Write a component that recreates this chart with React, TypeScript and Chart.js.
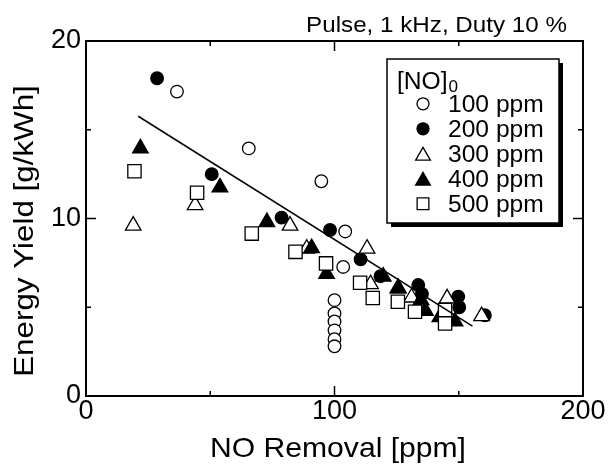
import React, { useEffect, useRef } from 'react';
import { Chart, registerables } from 'chart.js';

Chart.register(...registerables);

// ---------- data ----------
const removal100 = [36.6, 65.5, 94.7, 104.3, 103.5, 100, 100, 100, 100, 100, 100];
const yield100 = [17.15, 13.95, 12.1, 9.27, 7.27, 5.4, 4.65, 4.2, 3.7, 3.2, 2.8];

const removal200 = [28.6, 50.6, 78.7, 98.2, 110.5, 118.5, 133.7, 135.2, 149.8, 150.2, 160.5];
const yield200 = [17.9, 12.5, 10.05, 9.35, 7.7, 6.75, 6.25, 5.75, 5.6, 5.0, 4.55];

const removal300 = [19, 43.9, 82.1, 88.8, 113.1, 114.5, 125.6, 131, 145.3, 159.2];
const yield300 = [9.6, 10.75, 9.6, 8.3, 8.3, 6.3, 6.1, 5.55, 5.5, 4.5];

const removal400 = [21.9, 53.9, 72.8, 90.8, 96.8, 119.6, 125.6, 134.8, 136.6, 142.4, 148.5];
const yield400 = [13.95, 11.75, 9.8, 8.33, 6.88, 6.73, 6.05, 5.4, 4.8, 4.45, 4.2];

const removal500 = [19.5, 44.7, 66.7, 84.3, 96.6, 110.3, 115.4, 125.5, 132.4, 144.5, 144.5];
const yield500 = [12.66, 11.45, 9.15, 8.12, 7.47, 6.38, 5.52, 5.31, 4.75, 4.84, 4.09];

const fitX = [21, 155.5];
const fitY = [15.76, 3.94];

const seriesLabels = ['100 ppm', '200 ppm', '300 ppm', '400 ppm', '500 ppm'];
const legendTitle = '[NO]';
const legendTitleSub = '0';
const chartTitle = 'Pulse, 1 kHz, Duty 10 %';
const xTitle = 'NO Removal [ppm]';
const yTitle = 'Energy Yield [g/kWh]';
const xTickMarks = [0, 50, 100, 150, 200];
const yTickMarks = [0, 5, 10, 15, 20];

const FONT = '"Liberation Sans", Arial, Helvetica, sans-serif';

type Marker = { style: 'circle' | 'triangle' | 'rect'; filled: boolean; r: number };
const markers: Marker[] = [
  { style: 'circle', filled: false, r: 6.3 },
  { style: 'circle', filled: true, r: 6.3 },
  { style: 'triangle', filled: false, r: 9 },
  { style: 'triangle', filled: true, r: 9 },
  { style: 'rect', filled: false, r: 9.4 },
];

const pts = (xs: number[], ys: number[]) => xs.map((x, i) => ({ x, y: ys[i] }));

function drawMarker(ctx: CanvasRenderingContext2D, m: Marker, x: number, y: number, r: number) {
  ctx.beginPath();
  if (m.style === 'circle') {
    ctx.arc(x, y, r, 0, Math.PI * 2);
  } else if (m.style === 'triangle') {
    let rad = 0;
    ctx.moveTo(x + Math.sin(rad) * r, y - Math.cos(rad) * r);
    rad += (2 * Math.PI) / 3;
    ctx.lineTo(x + Math.sin(rad) * r, y - Math.cos(rad) * r);
    rad += (2 * Math.PI) / 3;
    ctx.lineTo(x + Math.sin(rad) * r, y - Math.cos(rad) * r);
    ctx.closePath();
  } else {
    const s = r * Math.SQRT1_2;
    ctx.rect(x - s, y - s, 2 * s, 2 * s);
  }
  ctx.fillStyle = m.filled ? '#000' : '#fff';
  ctx.fill();
  ctx.lineWidth = 1.3;
  ctx.strokeStyle = '#000';
  ctx.stroke();
}

function drawText(
  ctx: CanvasRenderingContext2D,
  s: string,
  x: number,
  y: number,
  size: number,
  align: CanvasTextAlign,
  sx: number,
  rot = 0
) {
  ctx.save();
  ctx.translate(x, y);
  if (rot) ctx.rotate(rot);
  ctx.scale(sx, 1);
  ctx.font = `${size}px ${FONT}`;
  ctx.textAlign = align;
  ctx.textBaseline = 'alphabetic';
  ctx.fillStyle = '#000';
  ctx.fillText(s, 0, 0);
  ctx.restore();
}

const decorPlugin = {
  id: 'decor',
  afterDatasetsDraw(chart: any) {
    const { ctx, chartArea, scales } = chart;
    const { left, right, top, bottom } = chartArea;
    const xs = scales.x;
    const ys = scales.y;
    ctx.save();
    ctx.strokeStyle = '#000';
    ctx.lineWidth = 2;
    ctx.strokeRect(left, top, right - left, bottom - top);
    ctx.lineWidth = 1.5;
    ctx.beginPath();
    for (const v of xTickMarks) {
      const px = xs.getPixelForValue(v);
      const len = v % 100 === 0 ? 10 : 5;
      ctx.moveTo(px, bottom);
      ctx.lineTo(px, bottom - len);
      ctx.moveTo(px, top);
      ctx.lineTo(px, top + len);
    }
    for (const v of yTickMarks) {
      const py = ys.getPixelForValue(v);
      const len = v % 10 === 0 ? 10 : 5;
      ctx.moveTo(left, py);
      ctx.lineTo(left + len, py);
      ctx.moveTo(right, py);
      ctx.lineTo(right - len, py);
    }
    ctx.stroke();

    // titles
    drawText(ctx, chartTitle, 567, 31.5, 22, 'right', 1.1);
    drawText(ctx, xTitle, 338, 457, 28, 'center', 1.075);
    drawText(ctx, yTitle, 32.5, 231, 28, 'center', 1.12, -Math.PI / 2);

    // legend
    const bx = 387, by = 59, bw = 172, bh = 164;
    ctx.fillStyle = '#000';
    ctx.fillRect(bx + 4, by + 4, bw, bh);
    ctx.fillStyle = '#fff';
    ctx.fillRect(bx, by, bw, bh);
    ctx.lineWidth = 1.5;
    ctx.strokeStyle = '#000';
    ctx.strokeRect(bx, by, bw, bh);

    const lsx = 1.07;
    drawText(ctx, legendTitle, 397, 88.5, 23, 'left', lsx);
    ctx.font = `23px ${FONT}`;
    const tw = ctx.measureText(legendTitle).width * lsx;
    drawText(ctx, legendTitleSub, 397 + tw + 1, 92, 16, 'left', lsx);

    seriesLabels.forEach((lab, i) => {
      const cy = 103.8 + i * 25;
      const m = markers[i];
      const r = m.style === 'circle' ? 6 : m.style === 'triangle' ? 8.5 : 8.3;
      drawMarker(ctx, m, 423, m.style === 'triangle' ? cy + 2 : cy, r);
      drawText(ctx, lab, 448, cy + 8, 23, 'left', lsx);
    });
    ctx.restore();
  },
};

export default function App() {
  const ref = useRef<HTMLCanvasElement>(null);
  useEffect(() => {
    if (!ref.current) return;
    const series = [
      pts(removal100, yield100),
      pts(removal200, yield200),
      pts(removal300, yield300),
      pts(removal400, yield400),
      pts(removal500, yield500),
    ];
    const datasets: any[] = series.map((d, i) => ({
      label: seriesLabels[i],
      data: d,
      order: 5 - i,
      showLine: false,
      pointStyle: markers[i].style,
      pointRadius: markers[i].r,
      pointHoverRadius: markers[i].r,
      pointBackgroundColor: markers[i].filled ? '#000' : '#fff',
      pointBorderColor: '#000',
      pointBorderWidth: 1.3,
    }));
    datasets.push({
      label: 'fit',
      data: pts(fitX, fitY),
      order: 0,
      showLine: true,
      borderColor: '#000',
      borderWidth: 1.5,
      pointRadius: 0,
      fill: false,
    });
    const chart = new Chart(ref.current, {
      type: 'scatter',
      data: { datasets },
      options: {
        animation: false,
        responsive: true,
        maintainAspectRatio: false,
        layout: { padding: { left: 0, right: 25, top: 41, bottom: 0 } },
        plugins: { legend: { display: false }, tooltip: { enabled: false } },
        scales: {
          x: {
            type: 'linear',
            min: 0,
            max: 200,
            grid: { display: false, drawTicks: false },
            border: { display: false },
            ticks: {
              stepSize: 100,
              padding: -1,
              color: '#000',
              font: { family: FONT, size: 27 },
              maxRotation: 0,
              autoSkip: false,
            },
            afterFit: (s: any) => {
              s.height = 74;
            },
          },
          y: {
            type: 'linear',
            min: 0,
            max: 20,
            grid: { display: false, drawTicks: false },
            border: { display: false },
            ticks: {
              stepSize: 10,
              padding: 5,
              color: '#000',
              font: { family: FONT, size: 27 },
              autoSkip: false,
            },
            afterFit: (s: any) => {
              s.width = 86;
            },
          },
        },
      },
      plugins: [decorPlugin],
    });
    return () => chart.destroy();
  }, []);
  return (
    <div style={{ position: 'absolute', left: 0, top: 0, width: 608, height: 470, background: '#fff' }}>
      <canvas ref={ref} />
    </div>
  );
}
